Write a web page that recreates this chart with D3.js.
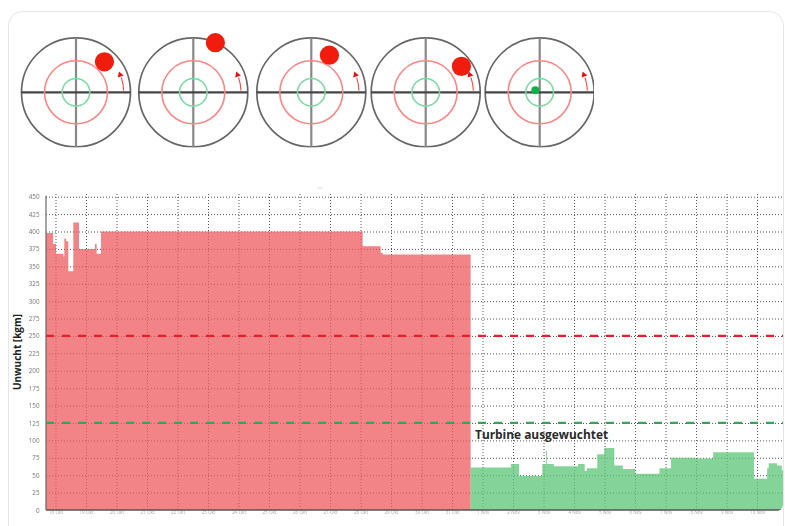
<!DOCTYPE html>
<html>
<head>
<meta charset="utf-8">
<script src="https://cdn.jsdelivr.net/npm/d3@7"></script>
<style>
    html, body { margin: 0; padding: 0; background: #fff; overflow: hidden; }
    svg { display: block; font-family: "Open Sans", sans-serif; }
    .grid line { stroke: #555; stroke-width: 1; stroke-dasharray: 1 2; }
    .grid path { display: none; }
</style>
</head>
<body>
<div id="chart"></div>
<script>
// Values. x is in days counted from the first tick
const dayLabels = ['18 Okt', '19 Okt', '20 Okt', '21 Okt', '22 Okt', '23 Okt', '24 Okt', '25 Okt',
    '26 Okt', '27 Okt', '28 Okt', '29 Okt', '30 Okt', '31 Okt', '1 Nov', '2 Nov',
    '3 Nov', '4 Nov', '5 Nov', '6 Nov', '7 Nov', '8 Nov', '9 Nov', '10 Nov'];
const unbalanceTicks = [0, 25, 50, 75, 100, 125, 150, 175, 200, 225, 250, 275, 300, 325, 350, 375, 400, 425, 450];

const beforeDays = [-0.311, -0.08, 0.016, 0.257, 0.289, 0.344, 0.42, 0.584, 0.77, 1.295, 1.35, 1.492, 10.07, 10.66, 10.73, 13.61];
const beforeValues = [398, 382, 368, 364, 390, 386, 343, 413, 375, 382, 368, 400, 379, 369, 367, 367];

const afterDays = [13.61, 14.93, 15.2, 15.96, 16.08, 16.11, 16.34, 17.13, 17.35, 17.42, 17.76, 17.99, 18.32, 18.6, 19.01, 19.8, 20.18, 20.97, 21.56, 22.9, 23.33, 23.38, 23.66, 23.81, 23.85];
const afterValues = [61, 66, 49, 66, 85, 66, 63, 66, 56, 60, 80, 89, 64, 59, 52, 60, 75, 74, 83, 45, 60, 67, 64, 57, 57];

const limitRed = 250;
const limitGreen = 125;

// Polar readings: distance as a share of the gauge radius, angle in degrees from 3 o'clock
const dotDistance = [0.765, 0.996, 0.758, 0.81, 0.088];
const dotAngle = [47, 66, 64, 36, 155];
const dotIsBalanced = [false, false, false, false, true];
const ringRed = 0.578;
const ringGreen = 0.253;

const width = 785, height = 526;
const margin = { top: 196.7, right: 2, bottom: 16, left: 46 };
const gaugeX = [76, 193.3, 311.3, 425.7, 539.7];
const gaugeY = 92.3;
const gaugeR = 54.5;

const svg = d3.select('#chart').append('svg')
    .attr('width', width)
    .attr('height', height)
    .attr('viewBox', `0 0 ${width} ${height}`);

const defs = svg.append('defs');
defs.append('filter').attr('id', 'soft').append('feGaussianBlur').attr('stdDeviation', 0.7);
defs.append('filter').attr('id', 'softer').append('feGaussianBlur').attr('stdDeviation', 0.3);
defs.append('clipPath').attr('id', 'gaugeClip').append('rect')
    .attr('x', 0).attr('y', 33).attr('width', 594).attr('height', 114.5);
defs.append('clipPath').attr('id', 'cardClip').append('rect')
    .attr('x', -40).attr('y', 100).attr('width', 823).attr('height', 411.2).attr('rx', 7);

// Card
svg.append('rect')
    .attr('x', 8.5).attr('y', 11.5)
    .attr('width', 775).attr('height', 560)
    .attr('rx', 14)
    .attr('fill', '#fff')
    .attr('stroke', '#e6e6e6')
    .attr('stroke-width', 1);

// Gauges
const radius = d3.scaleLinear([0, 1], [0, gaugeR]);
const gauges = svg.append('g')
    .attr('clip-path', 'url(#gaugeClip)')
    .append('g')
    .attr('filter', 'url(#soft)')
    .selectAll('g')
    .data(gaugeX.map((x, i) => ({ x, distance: dotDistance[i], angle: dotAngle[i], balanced: dotIsBalanced[i] })))
    .join('g')
    .attr('transform', d => `translate(${d.x},${gaugeY})`);

gauges.append('circle')
    .attr('r', radius(1))
    .attr('fill', 'none')
    .attr('stroke', '#666')
    .attr('stroke-width', 1.7);
gauges.append('line')
    .attr('y1', -radius(1)).attr('y2', radius(1))
    .attr('stroke', '#888')
    .attr('stroke-width', 2.2);
gauges.append('line')
    .attr('x1', -radius(1)).attr('x2', radius(1))
    .attr('stroke', '#444')
    .attr('stroke-width', 2.2);
gauges.append('circle')
    .attr('r', radius(ringRed))
    .attr('fill', 'none')
    .attr('stroke', '#fc8686')
    .attr('stroke-width', 1.6);
gauges.append('circle')
    .attr('r', radius(ringGreen))
    .attr('fill', 'none')
    .attr('stroke', '#7dd9a4')
    .attr('stroke-width', 1.6);

// Direction arrow next to the rim
const arrowArc = d3.arc()
    .innerRadius(radius(0.865))
    .outerRadius(radius(0.885))
    .startAngle(Math.PI / 180 * 88)
    .endAngle(Math.PI / 180 * 72);
gauges.append('path')
    .attr('d', arrowArc())
    .attr('fill', '#f44');
gauges.append('path')
    .attr('d', d3.symbol(d3.symbolTriangle, 16)())
    .attr('transform', `translate(${radius(0.81)},${-radius(0.32)}) rotate(-20)`)
    .attr('fill', '#ee1111');

gauges.append('circle')
    .attr('cx', d => radius(d.distance) * Math.cos(d.angle * Math.PI / 180))
    .attr('cy', d => -radius(d.distance) * Math.sin(d.angle * Math.PI / 180))
    .attr('r', d => d.balanced ? 4 : 9.6)
    .attr('fill', d => d.balanced ? '#0bb04a' : '#f01a08');

// Chart
const x = d3.scaleLinear([beforeDays[0], afterDays[afterDays.length - 1]], [margin.left, width - margin.right]);
const y = d3.scaleLinear([0, 450], [height - margin.bottom, margin.top]);

const chart = svg.append('g').attr('filter', 'url(#softer)');

const gridX = chart.append('g')
    .attr('class', 'grid')
    .attr('transform', `translate(0,${y(0)})`)
    .call(d3.axisBottom(x)
        .tickValues(d3.range(dayLabels.length))
        .tickSize(-(y(0) - margin.top + 4))
        .tickFormat((d, i) => dayLabels[i]));
gridX.selectAll('text')
    .attr('y', 1)
    .attr('dy', '0.71em')
    .attr('font-size', 4.6)
    .attr('font-family', '"Open Sans", sans-serif')
    .attr('fill', '#aaa');

const gridY = chart.append('g')
    .attr('class', 'grid')
    .attr('transform', `translate(${margin.left},0)`)
    .call(d3.axisLeft(y)
        .tickValues(unbalanceTicks)
        .tickSize(-(width - margin.left - margin.right)));
gridY.selectAll('text')
    .attr('x', -6.5)
    .attr('font-size', 6.3)
    .attr('font-family', '"Open Sans", sans-serif')
    .attr('fill', '#777');
gridY.selectAll('.tick').filter(d => d === 0).select('line').remove();

// Unbalance areas
const area = d3.area()
    .curve(d3.curveStepAfter)
    .x(d => x(d.day))
    .y0(y(0))
    .y1(d => y(d.value));

const fills = chart.append('g').attr('clip-path', 'url(#cardClip)');

fills.append('path')
    .datum(beforeDays.map((day, i) => ({ day, value: beforeValues[i] })))
    .attr('d', area)
    .attr('fill', '#ed5a5f')
    .attr('fill-opacity', 0.75);

fills.append('path')
    .datum(afterDays.map((day, i) => ({ day, value: afterValues[i] })))
    .attr('d', area)
    .attr('fill', '#5cc578')
    .attr('fill-opacity', 0.75);

fills.append('line')
    .attr('x1', x.range()[0]).attr('x2', x.range()[1])
    .attr('y1', y(0)).attr('y2', y(0))
    .attr('stroke', '#555')
    .attr('stroke-width', 1.4);

chart.append('line')
    .attr('x1', margin.left).attr('x2', margin.left)
    .attr('y1', margin.top - 1).attr('y2', y(0))
    .attr('stroke', '#666')
    .attr('stroke-width', 1.2);

// Limit lines
[[limitRed, '#e81c2c'], [limitGreen, '#2fa858']].forEach(([value, color]) => {
    chart.append('line')
        .attr('x1', x.range()[0]).attr('x2', x.range()[1])
        .attr('y1', y(value)).attr('y2', y(value))
        .attr('stroke', color)
        .attr('stroke-width', 2.2)
        .attr('stroke-dasharray', '8 8');
});

// Labels
svg.append('text')
    .attr('transform', `translate(20.5,${y(227)}) rotate(-90)`)
    .attr('text-anchor', 'middle')
    .attr('font-size', 10)
    .attr('font-weight', 700)
    .attr('fill', '#222')
    .text('Unwucht [kgm]');

svg.append('text')
    .attr('x', 475)
    .attr('y', 439)
    .attr('font-size', 11.9)
    .attr('font-weight', 700)
    .attr('fill', '#2a2a2a')
    .text('Turbine ausgewuchtet');

// Cut-off remainder of the hidden chart title
svg.append('line')
    .attr('x1', 317).attr('x2', 323)
    .attr('y1', 188).attr('y2', 188)
    .attr('stroke', '#ddd')
    .attr('stroke-width', 1);
</script>
</body>
</html>
